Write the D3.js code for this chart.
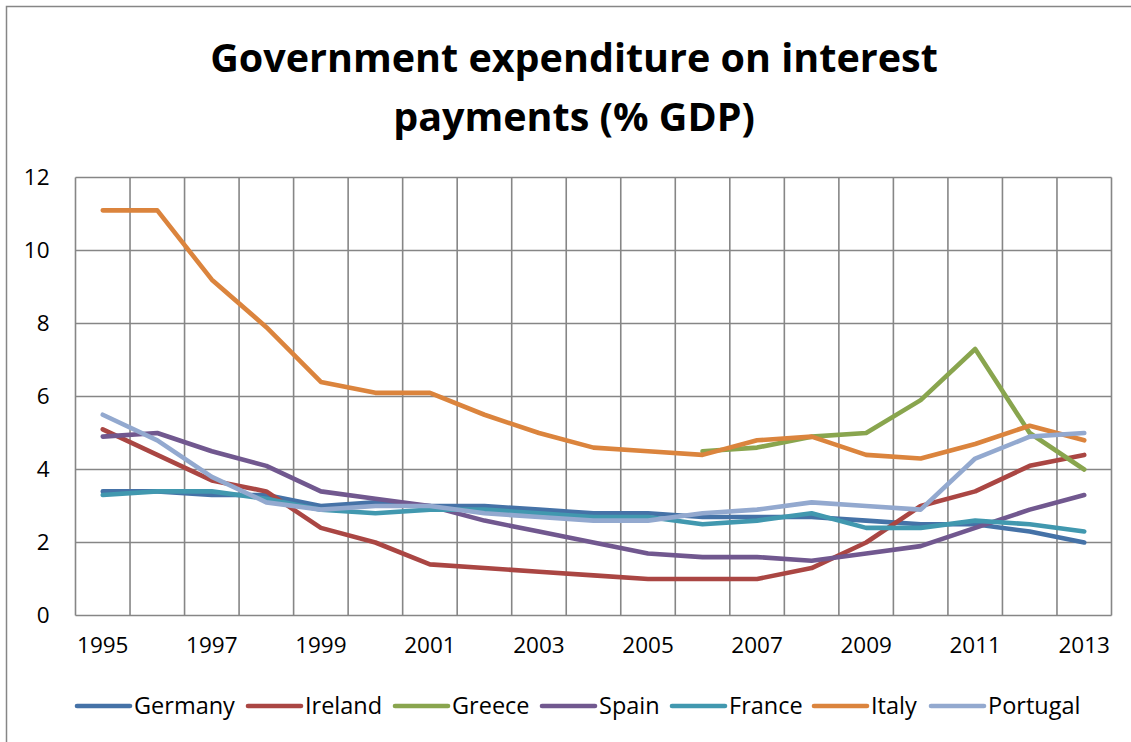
<!DOCTYPE html>
<html>
<head>
<meta charset="utf-8">
<script src="https://cdn.jsdelivr.net/npm/d3@7"></script>
<style>
  html, body { margin: 0; padding: 0; background: #fff; }
  svg { display: block; }
  text { font-family: "Open Sans", Lato, sans-serif; fill: #000; }
</style>
</head>
<body>
<svg id="chart" width="1131" height="742"></svg>
<script>
// Interest payments as % of GDP, 1995–2013
const years = [1995, 1996, 1997, 1998, 1999, 2000, 2001, 2002, 2003, 2004,
               2005, 2006, 2007, 2008, 2009, 2010, 2011, 2012, 2013];

const germany  = [3.4, 3.4, 3.3, 3.3, 3.0, 3.1, 3.0, 3.0, 2.9, 2.8, 2.8, 2.7, 2.7, 2.7, 2.6, 2.5, 2.5, 2.3, 2.0];
const ireland  = [5.1, 4.4, 3.7, 3.4, 2.4, 2.0, 1.4, 1.3, 1.2, 1.1, 1.0, 1.0, 1.0, 1.3, 2.0, 3.0, 3.4, 4.1, 4.4];
const greece   = [null, null, null, null, null, null, null, null, null, null, null, 4.5, 4.6, 4.9, 5.0, 5.9, 7.3, 5.0, 4.0];
const spain    = [4.9, 5.0, 4.5, 4.1, 3.4, 3.2, 3.0, 2.6, 2.3, 2.0, 1.7, 1.6, 1.6, 1.5, 1.7, 1.9, 2.4, 2.9, 3.3];
const france   = [3.3, 3.4, 3.4, 3.2, 2.9, 2.8, 2.9, 2.9, 2.8, 2.7, 2.7, 2.5, 2.6, 2.8, 2.4, 2.4, 2.6, 2.5, 2.3];
const italy    = [11.1, 11.1, 9.2, 7.9, 6.4, 6.1, 6.1, 5.5, 5.0, 4.6, 4.5, 4.4, 4.8, 4.9, 4.4, 4.3, 4.7, 5.2, 4.8];
const portugal = [5.5, 4.8, 3.8, 3.1, 2.9, 3.0, 3.0, 2.8, 2.7, 2.6, 2.6, 2.8, 2.9, 3.1, 3.0, 2.9, 4.3, 4.9, 5.0];

const seriesNames  = ["Germany", "Ireland", "Greece", "Spain", "France", "Italy", "Portugal"];
const seriesValues = [germany, ireland, greece, spain, france, italy, portugal];
const seriesColors = ["#4572A7", "#AA4643", "#89A54E", "#71588F", "#4198AF", "#DB843D", "#93A9CF"];

const yTicks = [0, 2, 4, 6, 8, 10, 12];
const xLabelYears = [1995, 1997, 1999, 2001, 2003, 2005, 2007, 2009, 2011, 2013];

const titleLines = ["Government expenditure on interest", "payments (% GDP)"];

const svg = d3.select("#chart");

// outer chart frame
svg.append("rect")
  .attr("x", 6.5).attr("y", 6.5)
  .attr("width", 1140).attr("height", 760)
  .attr("fill", "#fff")
  .attr("stroke", "#868686").attr("stroke-width", 1.5);

const plot = { left: 75.5, right: 1111.5, top: 177.5, bottom: 615.5 };

const x = d3.scaleBand()
  .domain(years)
  .range([plot.left, plot.right]);

const y = d3.scaleLinear()
  .domain([0, 12])
  .range([plot.bottom, plot.top]);

// title
svg.append("g")
  .selectAll("text")
  .data(titleLines)
  .join("text")
  .attr("x", 574)
  .attr("y", (d, i) => 72 + i * 59)
  .attr("text-anchor", "middle")
  .attr("font-size", 39.5)
  .attr("font-weight", "bold")
  .text(d => d);

// horizontal gridlines
const grid = svg.append("g");
grid.selectAll("line.h")
  .data(yTicks)
  .join("line")
  .attr("class", "h")
  .attr("x1", plot.left).attr("x2", plot.right)
  .attr("y1", d => y(d)).attr("y2", d => y(d))
  .attr("stroke", "#868686").attr("stroke-width", 1.6);

// vertical gridlines at category boundaries
const boundaries = years.map(d => x(d)).concat([x.range()[1]]);
grid.selectAll("line.v")
  .data(boundaries)
  .join("line")
  .attr("class", "v")
  .attr("x1", d => d).attr("x2", d => d)
  .attr("y1", plot.top).attr("y2", plot.bottom)
  .attr("stroke", "#868686").attr("stroke-width", 1.6);

// y axis labels
const yAxis = d3.axisLeft(y).tickValues(yTicks).tickSize(0).tickPadding(26);
svg.append("g")
  .attr("transform", `translate(${plot.left},0)`)
  .call(yAxis)
  .call(g => g.select(".domain").remove())
  .selectAll("text")
  .attr("font-family", "'Open Sans', Lato, sans-serif")
  .attr("font-size", 22.5)
  .attr("fill", "#000");

// x axis labels
const xAxis = d3.axisBottom(x).tickValues(xLabelYears).tickSize(0).tickPadding(22);
svg.append("g")
  .attr("transform", `translate(0,${plot.bottom})`)
  .call(xAxis)
  .call(g => g.select(".domain").remove())
  .selectAll("text")
  .attr("font-family", "'Open Sans', Lato, sans-serif")
  .attr("font-size", 22.5)
  .attr("fill", "#000");

// series lines
const line = d3.line()
  .defined(d => d.v !== null)
  .x(d => x(d.year) + x.bandwidth() / 2)
  .y(d => y(d.v));

svg.append("g")
  .selectAll("path")
  .data(seriesNames.map((name, i) => ({
    name,
    color: seriesColors[i],
    points: years.map((yr, j) => ({ year: yr, v: seriesValues[i][j] }))
  })))
  .join("path")
  .attr("d", d => line(d.points))
  .attr("fill", "none")
  .attr("stroke", d => d.color)
  .attr("stroke-width", 4.6)
  .attr("stroke-linecap", "round")
  .attr("stroke-linejoin", "round");

// legend
const legendX = [75, 246, 393, 540, 670, 812, 929];
const legend = svg.append("g")
  .selectAll("g")
  .data(seriesNames)
  .join("g")
  .attr("transform", (d, i) => `translate(${legendX[i]},706)`);
legend.append("line")
  .attr("x1", 2).attr("x2", 55)
  .attr("y1", 0).attr("y2", 0)
  .attr("stroke", (d, i) => seriesColors[i])
  .attr("stroke-width", 4.6)
  .attr("stroke-linecap", "round");
legend.append("text")
  .attr("x", 59)
  .attr("y", 0)
  .attr("dy", "0.35em")
  .attr("font-size", 23.5)
  .text(d => d);
</script>
</body>
</html>
